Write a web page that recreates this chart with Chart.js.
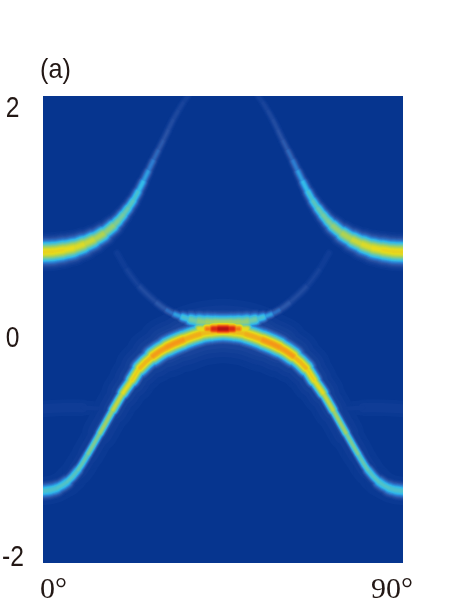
<!DOCTYPE html>
<html>
<head>
<meta charset="utf-8">
<style>
  html, body { margin: 0; padding: 0; background: #fff; }
  canvas { display: block; }
</style>
</head>
<body>
<canvas id="panel" width="471" height="609"></canvas>
<script src="https://cdn.jsdelivr.net/npm/chart.js@4"></script>
<script>
// bands: angle (deg), energy, peak intensity (0-1), half width (energy units)
const upperLeftDeg = [0, 2.5, 5, 7.5, 10, 12.5, 15, 17.5, 18.75, 20, 21.25, 22.5, 23.75, 25, 26.25, 27.5, 28.75, 30, 31.25, 32.5, 33.75, 35, 36.25];
const upperRightDeg = [90, 87.5, 85, 82.5, 80, 77.5, 75, 72.5, 71.25, 70, 68.75, 67.5, 66.25, 65, 63.75, 62.5, 61.25, 60, 58.75, 57.5, 56.25, 55, 53.75];
const upperEnergy = [0.664, 0.668, 0.681, 0.698, 0.728, 0.767, 0.818, 0.887, 0.93, 0.981, 1.038, 1.101, 1.178, 1.263, 1.352, 1.443, 1.53, 1.615, 1.705, 1.794, 1.87, 1.94, 2.0];
const upperPeak = [0.63, 0.63, 0.62, 0.6, 0.58, 0.54, 0.5, 0.44, 0.42, 0.4, 0.37, 0.34, 0.3, 0.25, 0.2, 0.15, 0.115, 0.09, 0.075, 0.065, 0.055, 0.045, 0.035];
const upperWidth = [0.058, 0.058, 0.056, 0.054, 0.05, 0.046, 0.042, 0.036, 0.034, 0.032, 0.03, 0.028, 0.026, 0.024, 0.022, 0.021, 0.02, 0.02, 0.02, 0.02, 0.02, 0.02, 0.02];

const arcDeg = [18.5, 21, 24.25, 28.5, 31, 33, 35, 37, 39, 41, 43, 45, 47, 49, 51, 53, 55, 57, 59, 61.5, 65.75, 69, 71.5];
const arcEnergy = [0.655, 0.51, 0.364, 0.227, 0.165, 0.13, 0.105, 0.085, 0.07, 0.062, 0.058, 0.056, 0.058, 0.062, 0.07, 0.085, 0.105, 0.13, 0.165, 0.227, 0.364, 0.51, 0.655];
const arcPeak = [0.025, 0.035, 0.05, 0.08, 0.12, 0.18, 0.28, 0.36, 0.44, 0.48, 0.5, 0.52, 0.5, 0.48, 0.44, 0.36, 0.28, 0.18, 0.12, 0.08, 0.05, 0.035, 0.025];
const arcWidth = [0.022, 0.022, 0.022, 0.022, 0.02, 0.02, 0.024, 0.034, 0.042, 0.046, 0.046, 0.046, 0.046, 0.046, 0.042, 0.034, 0.024, 0.02, 0.02, 0.022, 0.022, 0.022, 0.022];

const lowerDeg = [0, 1.75, 3.5, 6, 8.75, 11.25, 14.25, 17.5, 20, 22.25, 24.25, 27.5, 31, 35, 39.25, 42.25, 45,
  47.75, 50.75, 55, 59, 62.5, 65.75, 67.75, 70, 72.5, 75.75, 78.75, 81.25, 84, 86.5, 88.25, 90];
const lowerEnergy = [-1.383, -1.375, -1.358, -1.306, -1.203, -1.066, -0.887, -0.689, -0.544, -0.433, -0.33, -0.227, -0.15, -0.09, -0.039, -0.021, -0.013,
  -0.021, -0.039, -0.09, -0.15, -0.227, -0.33, -0.433, -0.544, -0.689, -0.887, -1.066, -1.203, -1.306, -1.358, -1.375, -1.383];
const lowerPeak = [0.33, 0.33, 0.33, 0.34, 0.36, 0.4, 0.46, 0.52, 0.58, 0.62, 0.66, 0.72, 0.77, 0.74, 0.68, 0.68, 0.7,
  0.68, 0.68, 0.74, 0.77, 0.72, 0.66, 0.62, 0.58, 0.52, 0.46, 0.4, 0.36, 0.34, 0.33, 0.33, 0.33];
const lowerWidth = [0.038, 0.038, 0.036, 0.03, 0.024, 0.022, 0.022, 0.024, 0.028, 0.033, 0.038, 0.046, 0.05, 0.052, 0.05, 0.05, 0.05,
  0.05, 0.05, 0.052, 0.05, 0.046, 0.038, 0.033, 0.028, 0.024, 0.022, 0.022, 0.024, 0.03, 0.036, 0.038, 0.038];
// soft haze that hugs the same band
const hazePeak = [0.025, 0.025, 0.025, 0.025, 0.03, 0.03, 0.035, 0.04, 0.045, 0.05, 0.055, 0.06, 0.065, 0.07, 0.07, 0.07, 0.07,
  0.07, 0.07, 0.07, 0.065, 0.06, 0.055, 0.05, 0.045, 0.04, 0.035, 0.03, 0.03, 0.025, 0.025, 0.025, 0.025];
const hazeWidth = [0.09, 0.09, 0.09, 0.09, 0.09, 0.09, 0.09, 0.1, 0.1, 0.11, 0.11, 0.12, 0.13, 0.14, 0.14, 0.14, 0.14,
  0.14, 0.14, 0.14, 0.13, 0.12, 0.11, 0.11, 0.1, 0.1, 0.09, 0.09, 0.09, 0.09, 0.09, 0.09, 0.09];

const spotDeg = [39, 41, 42.5, 44, 45, 46, 47.5, 49, 51];
const spotEnergy = [0.005, 0.005, 0.005, 0.005, 0.005, 0.005, 0.005, 0.005, 0.005];
const spotPeak = [0.5, 0.72, 0.88, 0.98, 1.0, 0.98, 0.88, 0.72, 0.5];
const spotWidth = [0.03, 0.038, 0.044, 0.046, 0.046, 0.046, 0.044, 0.038, 0.03];

const faintLeftDeg = [0, 5, 10, 15];
const faintRightDeg = [90, 85, 80, 75];
const faintEnergy = [-0.68, -0.67, -0.67, -0.68];
const faintPeak = [0.025, 0.03, 0.025, 0.018];
const faintWidth = [0.05, 0.05, 0.05, 0.05];

const yTickValues = [2, 0, -2];
const yTickLabels = ['2', '0', '-2'];
const xTickValues = [0, 90];
const xTickLabels = ['0°', '90°'];
const panelLabel = '(a)';

const bands = [
  { x: lowerDeg, y: lowerEnergy, peak: hazePeak, width: hazeWidth },
  { x: faintLeftDeg, y: faintEnergy, peak: faintPeak, width: faintWidth },
  { x: faintRightDeg, y: faintEnergy, peak: faintPeak, width: faintWidth },
  { x: upperLeftDeg, y: upperEnergy, peak: upperPeak, width: upperWidth },
  { x: upperRightDeg, y: upperEnergy, peak: upperPeak, width: upperWidth },
  { x: arcDeg, y: arcEnergy, peak: arcPeak, width: arcWidth },
  { x: lowerDeg, y: lowerEnergy, peak: lowerPeak, width: lowerWidth },
  { x: spotDeg, y: spotEnergy, peak: spotPeak, width: spotWidth },
];

// colour ramp, jet-like
const ramp = [
  [0, 6, 53, 145], [0.08, 42, 82, 165], [0.16, 45, 120, 205], [0.26, 50, 185, 235],
  [0.38, 105, 200, 175], [0.5, 170, 210, 90], [0.6, 230, 220, 30], [0.75, 245, 150, 25],
  [0.9, 225, 50, 20], [1, 170, 10, 20],
];

function rampColor(t) {
  for (let i = 1; i < ramp.length; i++) {
    if (t <= ramp[i][0]) {
      const a = ramp[i - 1], b = ramp[i];
      const f = (t - a[0]) / (b[0] - a[0]);
      const c = [1, 2, 3].map(k => Math.round(a[k] + (b[k] - a[k]) * f));
      return `rgb(${c[0]},${c[1]},${c[2]})`;
    }
  }
  return 'rgb(170,10,20)';
}

// one stroke per colour level, outer levels first (chart.js paints the first dataset last)
const datasets = [];
for (let t = 0.98; t > 0.005; t -= 0.01) {
  bands.forEach(b => {
    if (Math.max(...b.peak) <= t) return;
    datasets.push({
      data: b.x.map((v, i) => ({ x: v, y: b.y[i] })),
      borderColor: rampColor(t),
      borderWidth: 1,
      borderCapStyle: 'round',
      borderJoinStyle: 'round',
      pointRadius: 0,
      tension: 0.4,
      clip: 0,
      segment: {
        borderColor: ctx => {
          const p = (b.peak[ctx.p0DataIndex] + b.peak[ctx.p1DataIndex]) / 2;
          return p > t ? rampColor(t) : 'transparent';
        },
        borderWidth: ctx => {
          const p = (b.peak[ctx.p0DataIndex] + b.peak[ctx.p1DataIndex]) / 2;
          const w = (b.width[ctx.p0DataIndex] + b.width[ctx.p1DataIndex]) / 2;
          const sy = ctx.chart.scales.y;
          const wPx = Math.abs(sy.getPixelForValue(w) - sy.getPixelForValue(0));
          return p > t ? Math.max(0.1, 2 * wPx * Math.sqrt(2 * Math.log(p / t))) : 0.1;
        },
      },
    });
  });
}

const panelBackground = {
  id: 'panelBackground',
  beforeDraw: chart => {
    const { ctx, chartArea: a } = chart;
    ctx.save();
    ctx.fillStyle = '#06358f';
    ctx.fillRect(a.left, a.top, a.right - a.left, a.bottom - a.top);
    ctx.restore();
  },
};

// tick labels sit off their ticks in the original, so they are placed by hand
const axisLabels = {
  id: 'axisLabels',
  afterDraw: chart => {
    const { ctx, scales } = chart;
    ctx.save();
    ctx.fillStyle = '#231815';
    ctx.textBaseline = 'alphabetic';
    ctx.textAlign = 'right';
    ctx.font = '29px "Liberation Sans"';
    const yNudge = [20.5, 17, 3];
    yTickValues.forEach((v, i) => {
      ctx.save();
      ctx.translate(i === 2 ? 24 : 19.5, scales.y.getPixelForValue(v) + yNudge[i]);
      ctx.scale(0.85, 1);
      ctx.fillText(yTickLabels[i], 0, 0);
      ctx.restore();
    });
    ctx.font = '30px "Liberation Serif"';
    const xNudge = [24, 10];
    xTickValues.forEach((v, i) => {
      ctx.fillText(xTickLabels[i], scales.x.getPixelForValue(v) + xNudge[i], 598);
    });
    ctx.font = '28px "Liberation Sans"';
    ctx.textAlign = 'left';
    ctx.save();
    ctx.translate(40, 78);
    ctx.scale(0.9, 1);
    ctx.fillText(panelLabel, 0, 0);
    ctx.restore();
    ctx.restore();
  },
};

new Chart(document.getElementById('panel'), {
  type: 'line',
  data: { datasets },
  options: {
    responsive: false,
    animation: false,
    layout: { padding: { left: 43, right: 68, top: 96, bottom: 46 } },
    scales: {
      x: { type: 'linear', min: 0, max: 90, display: false },
      y: { type: 'linear', min: -2, max: 2, display: false },
    },
    plugins: { legend: { display: false }, tooltip: { enabled: false } },
  },
  plugins: [panelBackground, axisLabels],
});
</script>
</body>
</html>
